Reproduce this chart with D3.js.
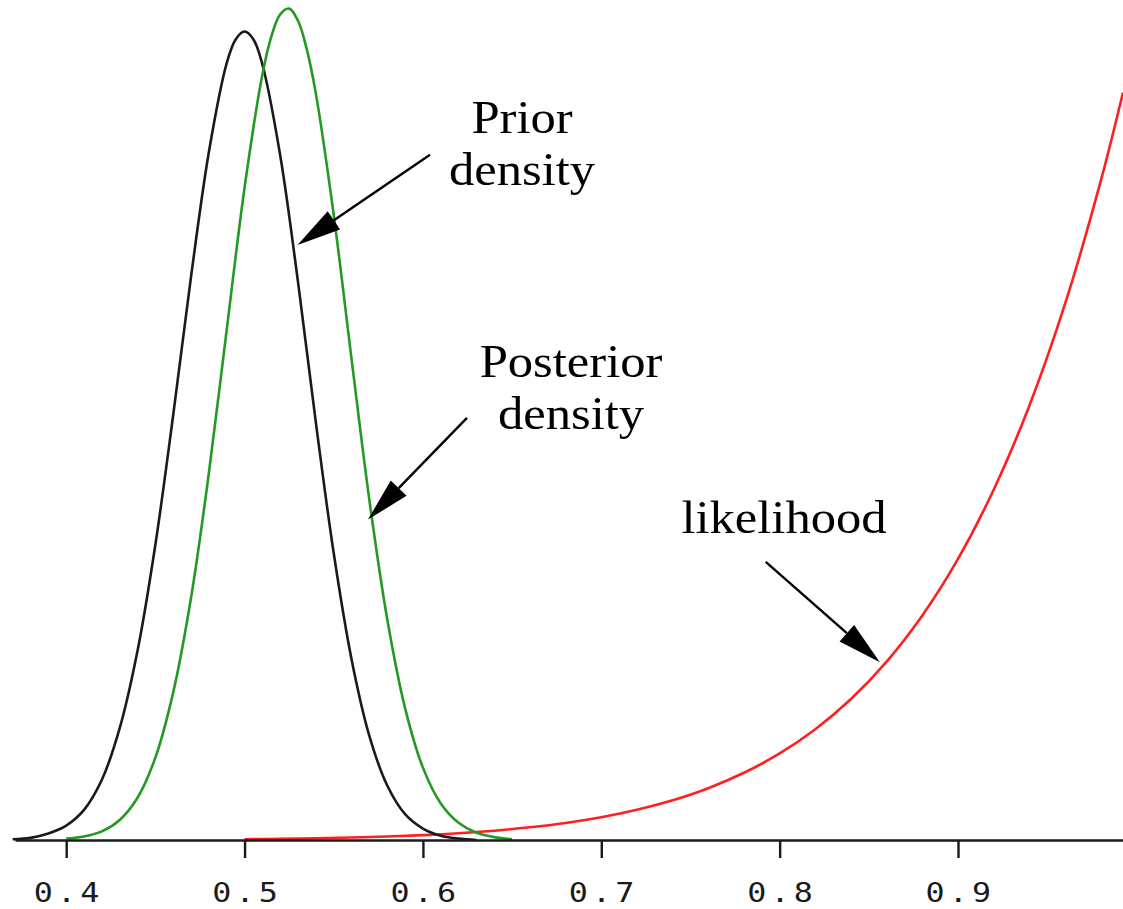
<!DOCTYPE html>
<html>
<head>
<meta charset="utf-8">
<script src="https://cdn.jsdelivr.net/npm/d3@7"></script>
<style>
  html, body { margin: 0; padding: 0; background: #fff; }
  svg { display: block; }
</style>
</head>
<body>
<svg id="chart" width="1123" height="909"></svg>
<script>
// Prior density, Beta-shaped around 0.5
const priorTheta = [0.37, 0.38, 0.39, 0.40, 0.41, 0.42, 0.43, 0.44, 0.45, 0.46, 0.47, 0.48, 0.49, 0.495, 0.50,
                    0.505, 0.51, 0.52, 0.53, 0.54, 0.55, 0.56, 0.57, 0.58, 0.59, 0.60, 0.61, 0.62, 0.63];
const priorDensity = [0.01, 0.03, 0.09, 0.20, 0.42, 0.84, 1.56, 2.64, 4.12, 5.93, 7.86, 9.60, 10.84, 11.17, 11.28,
                      11.17, 10.82, 9.55, 7.78, 5.82, 4.00, 2.52, 1.45, 0.76, 0.36, 0.16, 0.06, 0.02, 0.00];

// Posterior density, shifted towards the data
const postTheta = [0.40, 0.41, 0.42, 0.43, 0.44, 0.45, 0.46, 0.47, 0.48, 0.49, 0.50, 0.51, 0.515, 0.52, 0.525,
                   0.53, 0.535, 0.54, 0.55, 0.56, 0.57, 0.58, 0.59, 0.60, 0.61, 0.62, 0.63, 0.64, 0.65];
const postDensity = [0.02, 0.05, 0.12, 0.28, 0.59, 1.15, 2.06, 3.38, 5.12, 7.12, 9.10, 10.68, 11.21, 11.52, 11.60,
                     11.43, 11.02, 10.41, 8.72, 6.71, 4.74, 3.08, 1.84, 1.01, 0.51, 0.24, 0.10, 0.04, 0.01];

// Likelihood (rescaled to the density axis)
const likeTheta = [0.50, 0.52, 0.54, 0.56, 0.58, 0.60, 0.62, 0.64, 0.66, 0.68, 0.70, 0.72, 0.74,
                   0.76, 0.78, 0.80, 0.82, 0.84, 0.86, 0.88, 0.90, 0.92, 0.94, 0.96, 0.98, 0.9925];
const likeValue = [0.011, 0.016, 0.024, 0.034, 0.049, 0.068, 0.094, 0.130, 0.177, 0.238, 0.318, 0.421, 0.554,
                   0.723, 0.938, 1.208, 1.546, 1.967, 2.490, 3.133, 3.922, 4.887, 6.059, 7.479, 9.192, 10.43];

const tickValues = [0.4, 0.5, 0.6, 0.7, 0.8, 0.9];
const tickLabels = ["0.4", "0.5", "0.6", "0.7", "0.8", "0.9"];

// Annotation labels and the points their arrows run between (theta, density)
const noteLines = [["Prior", "density"], ["Posterior", "density"], ["likelihood"]];
const arrowTail = [[0.604, 9.56], [0.6247, 5.89], [0.7922, 3.88]];
const arrowTip  = [[0.5297, 8.30], [0.5692, 4.47], [0.8562, 2.48]];

const svg = d3.select("#chart");
const W = 1123, H = 909;
const baseY = 840;

const x = d3.scaleLinear().domain([0.3713, 0.9925]).range([15, W]);
const y = d3.scaleLinear().domain([0, 11.72]).range([baseY, 0]);

svg.append("rect").attr("width", W).attr("height", H).attr("fill", "#fff");

const line = d3.line()
  .x(d => x(d[0]))
  .y(d => y(d[1]))
  .curve(d3.curveCatmullRom.alpha(0.5));

const zip = (a, b) => a.map((v, i) => [v, b[i]]);

const curves = svg.append("g").attr("fill", "none").attr("stroke-width", 2.6)
  .attr("stroke-linejoin", "round");

curves.append("path").datum(zip(likeTheta, likeValue))
  .attr("stroke", "#ff1f1f").attr("d", line);
curves.append("path").datum(zip(priorTheta, priorDensity))
  .attr("stroke", "#1a1a1a").attr("d", line);
curves.append("path").datum(zip(postTheta, postDensity))
  .attr("stroke", "#249a24").attr("d", line);

// Horizontal axis
const axis = d3.axisBottom(x)
  .tickValues(tickValues)
  .tickFormat((d, i) => tickLabels[i])
  .tickSize(18)
  .tickSizeOuter(0);

const gx = svg.append("g").attr("transform", `translate(0,${baseY})`).call(axis);
gx.select(".domain").attr("stroke", "#1a1a1a").attr("stroke-width", 2.6);
gx.selectAll(".tick line").attr("stroke", "#1a1a1a").attr("stroke-width", 2.4);
gx.selectAll(".tick text")
  .attr("y", 62).attr("dy", 0).attr("dx", 1.6)
  .attr("transform", "scale(1.22,1)")
  .attr("fill", "#1a1a1a")
  .style("font-family", "'DejaVu Sans Mono', monospace")
  .style("font-size", "26px")
  .style("letter-spacing", "3.4px");

// Annotations: arrows and their labels
const notes = svg.append("g");
const labelPos = [[522, 133], [571, 377], [784, 533]];
const lineGap = 52;

arrowTail.forEach((t, i) => {
  const x0 = x(t[0]), y0 = y(t[1]);
  const x1 = x(arrowTip[i][0]), y1 = y(arrowTip[i][1]);
  const ang = Math.atan2(y1 - y0, x1 - x0);
  const headLen = 44, headHalf = 11;
  const bx = x1 - headLen * Math.cos(ang), by = y1 - headLen * Math.sin(ang);
  notes.append("line")
    .attr("x1", x0).attr("y1", y0).attr("x2", bx).attr("y2", by)
    .attr("stroke", "#000").attr("stroke-width", 2.4);
  const px = -Math.sin(ang) * headHalf, py = Math.cos(ang) * headHalf;
  notes.append("path")
    .attr("d", `M${x1},${y1}L${bx + px},${by + py}L${bx - px},${by - py}Z`)
    .attr("fill", "#000");

  const txt = notes.append("text")
    .attr("transform", `translate(${labelPos[i][0]},${labelPos[i][1]}) scale(1.1,1)`)
    .attr("text-anchor", "middle")
    .attr("fill", "#000")
    .style("font-family", "'Liberation Serif', 'Times New Roman', serif")
    .style("font-size", "46px");
  noteLines[i].forEach((s, k) => {
    txt.append("tspan").attr("x", 0).attr("y", k * lineGap).text(s);
  });
});
</script>
</body>
</html>
